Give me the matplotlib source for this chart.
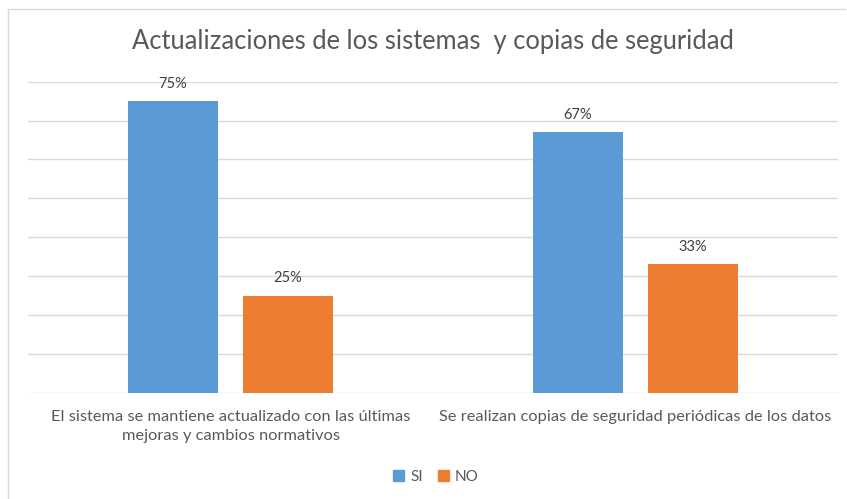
import numpy as np
import matplotlib
matplotlib.use('Agg')
import matplotlib.pyplot as plt
from matplotlib.lines import Line2D
from matplotlib.patches import Patch

plt.rcParams['font.family'] = ['Lato', 'DejaVu Sans']

# data
categories = ['El sistema se mantiene actualizado con las últimas\nmejoras y cambios normativos',
              'Se realizan copias de seguridad periódicas de los datos']
si_vals = [0.75, 0.67]
no_vals = [0.25, 0.33]
series_names = ['SI', 'NO']
title = 'Actualizaciones de los sistemas  y copias de seguridad'

blue = '#5B9BD5'
orange = '#ED7D31'
txt = '#595959'
grid = '#D9D9D9'

W, H = 847, 499
fig = plt.figure(figsize=(W / 100, H / 100), dpi=100)
ax = fig.add_axes([28 / W, 1 - 392.7 / H, 810 / W, (392.7 - 81.7) / H])

x = np.arange(len(categories))
bw = 0.222
off = 0.142
b1 = ax.bar(x - off, si_vals, bw, color=blue, label=series_names[0], zorder=3)
b2 = ax.bar(x + off, no_vals, bw, color=orange, label=series_names[1], zorder=3)

for bars, vals in ((b1, si_vals), (b2, no_vals)):
    for r, v in zip(bars, vals):
        ax.annotate('{:.0f}%'.format(v * 100), (r.get_x() + r.get_width() / 2, v),
                    xytext=(0, 7.5), textcoords='offset points', ha='center', va='bottom',
                    fontsize=10.5, color='#404040')

ax.set_xlim(-0.5, 1.5)
ax.set_ylim(0, 0.8)
ax.set_yticks(np.arange(0, 0.81, 0.1))
ax.yaxis.grid(True, color=grid, linewidth=1)
ax.set_axisbelow(True)
ax.tick_params(axis='y', left=False, labelleft=False)
ax.tick_params(axis='x', bottom=False, pad=9)
ax.set_xticks(x)
ax.set_xticklabels(categories, fontsize=11.8, color=txt, linespacing=1.45)
for s in ax.spines.values():
    s.set_visible(False)

fig.text(433 / W, 1 - 42 / H, title, ha='center', va='center', fontsize=18.4, color=txt)

fig.legend(handles=[Patch(color=blue), Patch(color=orange)], labels=series_names,
           loc='center', bbox_to_anchor=(436 / W, 1 - 477 / H), ncol=2, frameon=False,
           fontsize=11, handlelength=0.7, handleheight=0.7, handletextpad=0.4,
           columnspacing=1.0, labelcolor=txt)

# chart frame (left and top edges visible)
fig.add_artist(Line2D([8 / W, 8 / W], [0, 1 - 9 / H], color='#D9D9D9', lw=1))
fig.add_artist(Line2D([8 / W, 845 / W], [1 - 9 / H, 1 - 9 / H], color='#D9D9D9', lw=1))

fig.savefig('out.png', dpi=100)
